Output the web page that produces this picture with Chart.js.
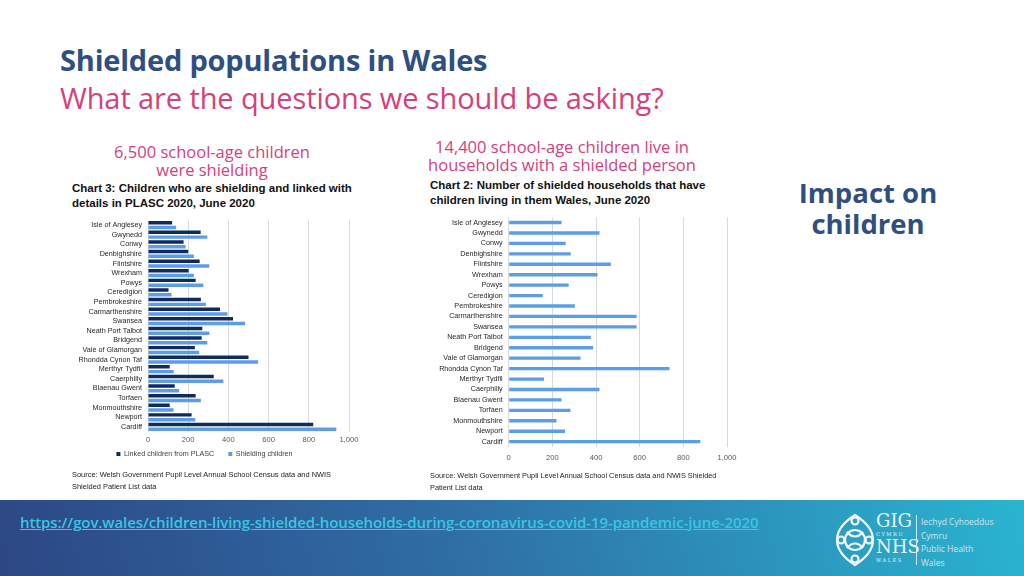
<!DOCTYPE html>
<html>
<head>
<meta charset="utf-8">
<script src="https://cdn.jsdelivr.net/npm/chart.js@4"></script>
<style>
  body { margin: 0; width: 1024px; height: 576px; overflow: hidden; background: #fff; font-family: "Open Sans", sans-serif; position: relative; }
  .abs { position: absolute; white-space: nowrap; }
  #title { left: 60px; top: 40px; font-size: 29px; font-weight: 700; color: #2f4f80; letter-spacing: -0.2px; }
  #subtitle { left: 60px; top: 78px; font-size: 29px; color: #d6407a; letter-spacing: -0.1px; }
  .pink { color: #d6407a; font-size: 16.5px; text-align: center; line-height: 18px; }
  .ctitle { font-family: "Liberation Sans", Arial, sans-serif; font-weight: 700; font-size: 11.5px; line-height: 15px; color: #111; }
  .source { font-family: "Liberation Sans", Arial, sans-serif; color: #222; }
  #impact { left: 773px; top: 177px; width: 190px; text-align: center; font-size: 27.5px; font-weight: 700; color: #2f4f80; line-height: 31px; }
  #banner { position: absolute; left: 0; top: 500px; width: 1024px; height: 76px; background: linear-gradient(75deg, #2c4784 0%, #2f6fa6 45%, #29b5d0 100%); }
  #link { left: 20px; top: 512px; font-size: 15px; font-weight: 600; color: #38c6e4; text-decoration: underline; letter-spacing: -0.09px; }
  .logo { color: #e8f2f7; }
  canvas { position: absolute; }
</style>
</head>
<body>
<div id="title" class="abs">Shielded populations in Wales</div>
<div id="subtitle" class="abs">What are the questions we should be asking?</div>

<div class="abs pink" style="left:82px; top:143px; width:260px;">6,500 school-age children<br>were shielding</div>
<div class="abs pink" style="left:412px; top:138px; width:300px;">14,400 school-age children live in<br>households with a shielded person</div>

<div class="abs ctitle" style="left:72px; top:181px;">Chart 3: Children who are shielding and linked with<br>details in PLASC 2020, June 2020</div>
<div class="abs ctitle" style="left:430px; top:178px;">Chart 2: Number of shielded households that have<br>children living in them Wales, June 2020</div>

<canvas id="chart3" width="320" height="270" style="left:60px; top:210px;"></canvas>
<canvas id="chart2" width="330" height="261" style="left:420px; top:206.5px;"></canvas>

<div class="abs source" style="left:72px; top:469px; font-size:7.45px; line-height:12px;">Source: Welsh Government Pupil Level Annual School Census data and NWIS<br>Shielded Patient List data</div>
<div class="abs source" style="left:430px; top:470px; font-size:7.35px; line-height:11.5px;">Source: Welsh Government Pupil Level Annual School Census data and NWIS Shielded<br>Patient List data</div>

<div id="impact" class="abs">Impact on<br>children</div>

<div id="banner"></div>
<div id="link" class="abs">https://gov.wales/children-living-shielded-households-during-coronavirus-covid-19-pandemic-june-2020</div>

<svg class="abs" style="left:834px; top:512px;" width="42" height="56" viewBox="0 0 42 56">
  <g fill="none" stroke="#f2f7fa" stroke-width="2.2">
    <path d="M21 3 C32 10 39 18 39 28 C39 38 32 46 21 53 C10 46 3 38 3 28 C3 18 10 10 21 3 Z"/>
    <circle cx="21" cy="28" r="10"/>
    <path d="M13 20 C18 26 24 26 29 20 M13 36 C18 30 24 30 29 36"/>
    <circle cx="21" cy="9" r="3.5"/>
    <circle cx="21" cy="47" r="3.5"/>
    <circle cx="7" cy="28" r="3.5"/>
    <circle cx="35" cy="28" r="3.5"/>
  </g>
</svg>
<div class="abs logo" style="left:876px; top:512px; font-family:'DejaVu Serif',serif; font-size:18px; line-height:18px;">GIG</div>
<div class="abs logo" style="left:876px; top:531px; font-family:'DejaVu Serif',serif; font-size:5px; letter-spacing:1.6px;">CYMRU</div>
<div class="abs logo" style="left:876px; top:538px; font-family:'DejaVu Serif',serif; font-size:18px; line-height:18px;">NHS</div>
<div class="abs logo" style="left:876px; top:557px; font-family:'DejaVu Serif',serif; font-size:5px; letter-spacing:1.6px;">WALES</div>
<div class="abs" style="left:916px; top:515px; width:1px; height:50px; background:#d0e4ee;"></div>
<div class="abs logo" style="left:921px; top:515px; font-size:8.5px; line-height:13.5px; color:#d4e3ec;">Iechyd Cyhoeddus<br>Cymru<br>Public Health<br>Wales</div>

<script>
const areas = ['Isle of Anglesey', 'Gwynedd', 'Conwy', 'Denbighshire', 'Flintshire', 'Wrexham', 'Powys',
  'Ceredigion', 'Pembrokeshire', 'Carmarthenshire', 'Swansea', 'Neath Port Talbot', 'Bridgend',
  'Vale of Glamorgan', 'Rhondda Cynon Taf', 'Merthyr Tydfil', 'Caerphilly', 'Blaenau Gwent',
  'Torfaen', 'Monmouthshire', 'Newport', 'Cardiff'];

// chart 3
const linkedChildren = [120, 262, 177, 200, 257, 202, 237, 102, 263, 358, 423, 270, 267, 233, 500, 108, 327, 133, 237, 108, 217, 822];
const shieldingChildren = [140, 295, 187, 228, 305, 228, 275, 117, 288, 395, 483, 305, 295, 255, 548, 128, 375, 155, 263, 127, 235, 937];

// chart 2
const shieldedHouseholds = [242, 416, 261, 284, 468, 407, 275, 156, 303, 586, 586, 376, 387, 329, 737, 162, 416, 242, 283, 219, 258, 878];

const xTickLabels = ['0', '200', '400', '600', '800', '1,000'];

const fontFamily = 'Liberation Sans, Arial, sans-serif';

// legend padding also sets the gap between items, so lift it back up under the axis
const legendLift = {
  id: 'legendLift',
  afterLayout(chart, args, opts) {
    chart.legend.top -= opts.by;
    chart.legend.bottom -= opts.by;
  },
};

function xScale(pad) {
  return {
    min: 0,
    max: 1000,
    ticks: {
      stepSize: 200,
      font: { family: fontFamily, size: 7.6 },
      color: '#595959',
      padding: pad,
      callback: (v, i) => xTickLabels[i],
    },
    grid: { color: '#d9d9d9', drawTicks: false },
    border: { display: false },
  };
}

function yScale(w) {
  return {
    ticks: { font: { family: fontFamily, size: 7.2 }, color: '#262626', autoSkip: false, padding: 6 },
    grid: { display: false, drawTicks: false },
    border: { display: false },
    afterFit(scale) { scale.width = w; },
  };
}

new Chart(document.getElementById('chart3'), {
  type: 'bar',
  data: {
    labels: areas,
    datasets: [
      {
        label: 'Linked children from PLASC',
        data: linkedChildren,
        backgroundColor: '#0e2b5c',
        barPercentage: 0.72,
        categoryPercentage: 1,
      },
      {
        label: 'Shielding children',
        data: shieldingChildren,
        backgroundColor: '#5b9de8',
        barPercentage: 0.72,
        categoryPercentage: 1,
      },
    ],
  },
  options: {
    indexAxis: 'y',
    responsive: false,
    animation: false,
    layout: { padding: { top: 5, right: 31, left: 0, bottom: 0 } },
    plugins: {
      legend: {
        position: 'bottom',
        labels: { boxWidth: 4, boxHeight: 4, font: { family: fontFamily, size: 7.2 }, color: '#404040', padding: 14 },
      },
      legendLift: { by: 12.5 },
      tooltip: { enabled: false },
    },
    scales: { x: xScale(4), y: yScale(88) },
  },
  plugins: [legendLift],
});

new Chart(document.getElementById('chart2'), {
  type: 'bar',
  data: {
    labels: areas,
    datasets: [
      {
        label: 'Shielded households',
        data: shieldedHouseholds,
        backgroundColor: '#5b9de8',
        barPercentage: 0.32,
        categoryPercentage: 1,
      },
    ],
  },
  options: {
    indexAxis: 'y',
    responsive: false,
    animation: false,
    layout: { padding: { top: 6.5, right: 23, left: 0, bottom: 0 } },
    plugins: {
      legend: { display: false },
      tooltip: { enabled: false },
    },
    scales: { x: xScale(6), y: yScale(88.7) },
  },
});
</script>
</body>
</html>
